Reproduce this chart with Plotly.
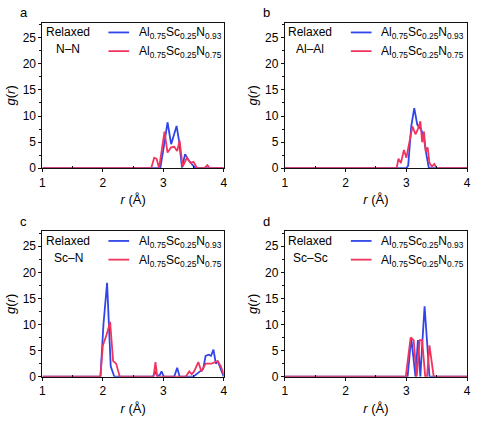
import plotly.graph_objects as go

# ---------------- data ----------------
panel_letters = ["a", "b", "c", "d"]
panel_pairs = ["N–N", "Al–Al", "Sc–N", "Sc–Sc"]
legend_blue = "Al<sub>0.75</sub>Sc<sub>0.25</sub>N<sub>0.93</sub>"
legend_red = "Al<sub>0.75</sub>Sc<sub>0.25</sub>N<sub>0.75</sub>"
x_ticks = [1, 2, 3, 4]
x_minor = [1.5, 2.5, 3.5]
y_ticks = [0, 5, 10, 15, 20, 25]
y_minor = [2.5, 7.5, 12.5, 17.5, 22.5, 27.5]

# (a) N-N
a_blue_r = [1.0, 2.90, 2.95, 3.00, 3.07, 3.13, 3.22, 3.26, 3.31, 3.36, 3.42, 3.47, 3.53, 4.0]
a_blue_g = [0, 0, 0, 3.5, 8.8, 4.6, 8.1, 5.3, 0.1, 2.7, 1.5, 0.8, 0, 0]
a_red_r = [1.0, 2.80, 2.85, 2.89, 2.93, 3.02, 3.07, 3.13, 3.18, 3.23, 3.27, 3.32, 3.39, 3.45, 3.50, 3.56, 3.68, 3.73, 3.77, 4.0]
a_red_g = [0, 0, 2.0, 1.8, 0, 7.0, 3.0, 4.0, 4.1, 3.3, 5.3, 0.3, 2.0, 1.0, 1.2, 0, 0, 0.6, 0, 0]

# (b) Al-Al
b_blue_r = [1.0, 3.00, 3.03, 3.08, 3.13, 3.18, 3.24, 3.28, 3.33, 3.37, 4.0]
b_blue_g = [0, 0, 0.5, 8.0, 11.5, 8.3, 7.5, 6.3, 2.6, 0, 0]
b_red_r = [1.0, 2.84, 2.87, 2.91, 2.96, 3.00, 3.05, 3.10, 3.15, 3.19, 3.23, 3.26, 3.29, 3.32, 3.35, 3.38, 3.42, 3.46, 3.50, 4.0]
b_red_g = [0, 0, 1.8, 1.0, 3.5, 2.0, 5.0, 8.0, 6.5, 7.5, 9.0, 5.0, 7.0, 3.0, 4.0, 1.0, 0.3, 0.8, 0, 0]

# (c) Sc-N
c_blue_r = [1.0, 1.96, 2.01, 2.07, 2.13, 2.19, 2.83, 2.86, 2.90, 2.94, 2.97, 3.01, 3.18, 3.23, 3.27, 3.50, 3.55, 3.61, 3.66, 3.70, 3.75, 3.79, 3.83, 3.87, 3.90, 3.95, 4.0]
c_blue_g = [0, 0, 10.0, 18.0, 2.0, 0, 0, 1.0, 0.2, 0.3, 1.0, 0, 0, 1.7, 0, 0, 0.5, 1.0, 1.5, 4.0, 4.2, 4.0, 5.2, 2.5, 3.0, 1.5, 0]
c_red_r = [1.0, 1.96, 2.00, 2.06, 2.12, 2.17, 2.22, 2.28, 2.84, 2.87, 2.90, 3.37, 3.43, 3.47, 3.51, 3.58, 3.63, 3.70, 3.80, 3.90, 3.95, 4.0]
c_red_g = [0, 0, 6.0, 8.0, 10.5, 3.0, 2.5, 0, 0, 2.8, 0, 0, 1.0, 0.5, 1.0, 2.8, 1.0, 2.5, 2.5, 3.0, 2.0, 0.5]

# (d) Sc-Sc
d_blue_r = [1.0, 3.02, 3.08, 3.15, 3.19, 3.23, 3.26, 3.30, 3.38, 4.0]
d_blue_g = [0, 0, 7.5, 0, 7.0, 0, 6.0, 13.5, 0, 0]
d_red_r = [1.0, 2.99, 3.07, 3.12, 3.17, 3.22, 3.26, 3.31, 3.34, 3.38, 3.45, 4.0]
d_red_g = [0, 0, 7.5, 7.0, 0, 7.0, 7.0, 0, 0, 6.0, 0, 0]

blue_series = [(a_blue_r, a_blue_g), (b_blue_r, b_blue_g), (c_blue_r, c_blue_g), (d_blue_r, d_blue_g)]
red_series = [(a_red_r, a_red_g), (b_red_r, b_red_g), (c_red_r, c_red_g), (d_red_r, d_red_g)]

# ---------------- style ----------------
BLUE = "#2f45e8"
RED = "#f0345e"
FONT = "Liberation Sans, Arial, sans-serif"
W, H = 480, 424
LW = 1.8

# plot-area pixel boxes: (left, top, right, bottom)
boxes = [(40, 23, 224, 171), (286, 23, 471, 171), (40, 235, 224, 383), (286, 235, 471, 383)]

fig = go.Figure()
layout = dict(
    width=W, height=H, margin=dict(l=0, r=0, t=0, b=0),
    paper_bgcolor="white", plot_bgcolor="white", showlegend=False,
    font=dict(family=FONT, size=12, color="black"),
)
annotations = []
shapes = []

for i in range(4):
    n = "" if i == 0 else str(i + 1)
    xa, ya = "x" + n, "y" + n
    L, T, R, B = boxes[i]
    dom_x = [L / W, R / W]
    dom_y = [1 - B / H, 1 - T / H]
    br, bg = blue_series[i]
    rr, rg = red_series[i]
    fig.add_trace(go.Scatter(x=br, y=bg, mode="lines", line=dict(color=BLUE, width=LW),
                             xaxis=xa, yaxis=ya))
    fig.add_trace(go.Scatter(x=rr, y=rg, mode="lines", line=dict(color=RED, width=LW),
                             xaxis=xa, yaxis=ya))
    layout["xaxis" + n] = dict(
        domain=dom_x, anchor=ya, range=[1, 4], tickvals=x_ticks, showgrid=False, zeroline=False,
        showline=True, mirror=True, linecolor="#111", linewidth=1, ticks="outside", ticklen=3,
        tickcolor="#111", tickfont=dict(size=12, family=FONT),
        minor=dict(tickvals=x_minor, ticks="inside", ticklen=2, tickcolor="#111"),
        title=dict(text="<i>r</i> (Å)", font=dict(size=13, family=FONT), standoff=6),
    )
    layout["yaxis" + n] = dict(
        domain=dom_y, anchor=xa, range=[0, 27.9], tickvals=y_ticks, showgrid=False, zeroline=False,
        showline=True, mirror=True, linecolor="#111", linewidth=1, ticks="outside", ticklen=3,
        tickcolor="#111", tickfont=dict(size=12, family=FONT),
        minor=dict(tickvals=y_minor, ticks="outside", ticklen=2, tickcolor="#111"),
        title=dict(text="<i>g</i>(<i>r</i>)", font=dict(size=13, family=FONT), standoff=4),
    )
    pw, ph = R - L, B - T

    def rx(px):
        return (px - L) / pw

    def ry(py):
        return 1 - (py - T) / ph

    xd, yd = xa + " domain", ya + " domain"
    annotations.append(dict(text=panel_letters[i], x=rx(L - 19), y=ry(T - 10), xref=xd, yref=yd,
                            showarrow=False, font=dict(size=13, family=FONT), xanchor="center", yanchor="middle"))
    annotations.append(dict(text="Relaxed", x=rx(L + 26), y=ry(T + 10), xref=xd, yref=yd,
                            showarrow=False, font=dict(size=12, family=FONT), xanchor="center", yanchor="middle"))
    annotations.append(dict(text=panel_pairs[i], x=rx(L + 26), y=ry(T + 27), xref=xd, yref=yd,
                            showarrow=False, font=dict(size=12, family=FONT), xanchor="center", yanchor="middle"))
    annotations.append(dict(text=legend_blue, x=rx(L + 96), y=ry(T + 11), xref=xd, yref=yd,
                            showarrow=False, font=dict(size=12, family=FONT), xanchor="left", yanchor="middle"))
    annotations.append(dict(text=legend_red, x=rx(L + 96), y=ry(T + 30), xref=xd, yref=yd,
                            showarrow=False, font=dict(size=12, family=FONT), xanchor="left", yanchor="middle"))
    shapes.append(dict(type="line", xref=xd, yref=yd, x0=rx(L + 67), x1=rx(L + 88),
                       y0=ry(T + 10), y1=ry(T + 10), line=dict(color=BLUE, width=LW)))
    shapes.append(dict(type="line", xref=xd, yref=yd, x0=rx(L + 67), x1=rx(L + 88),
                       y0=ry(T + 29), y1=ry(T + 29), line=dict(color=RED, width=LW)))

layout["annotations"] = annotations
layout["shapes"] = shapes
fig.update_layout(**layout)
fig.write_html("out.html", config={"displayModeBar": False},
               post_script="document.body.style.margin='0px';")
